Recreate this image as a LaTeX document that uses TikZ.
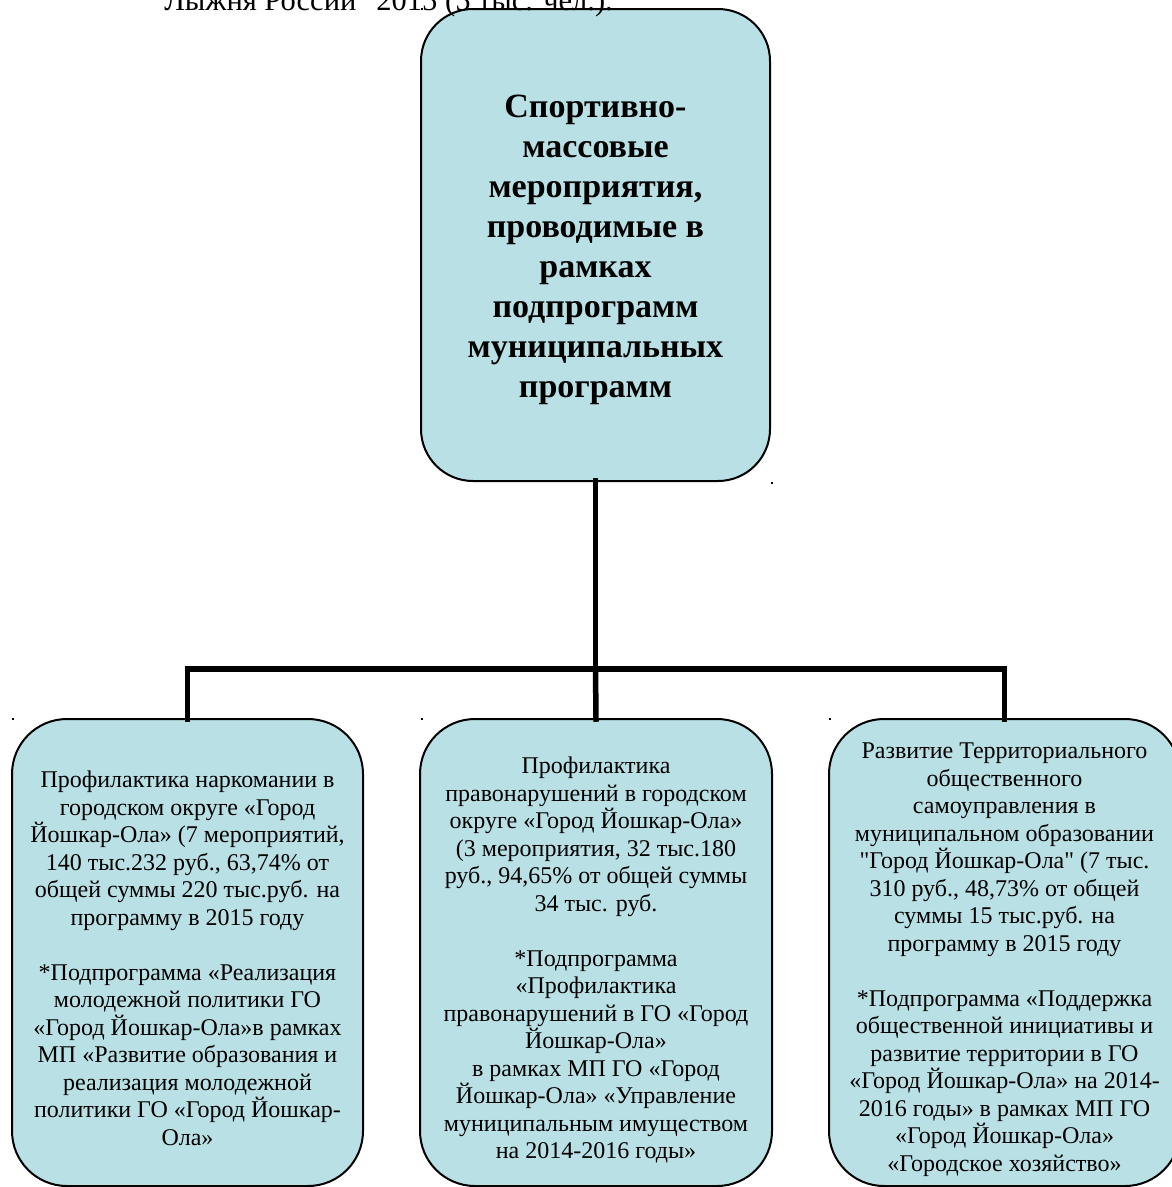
\documentclass[tikz,border=0pt]{standalone}
\usepackage{fontspec}
\setmainfont{Liberation Serif}
\newfontfamily\plainq{Liberation Serif}
\definecolor{boxfill}{RGB}{185,224,228}
\newcommand{\sq}{{\plainq\char34}}
\tikzset{
  box/.style={draw=black, line width=2pt, fill=boxfill, inner sep=0pt, outer sep=0pt},
  conn/.style={line width=5.5pt, line join=miter, line cap=rect},
  body/.style={align=center, font=\fontsize{24}{27.5}\selectfont, inner sep=0pt, anchor=north},
  titletext/.style={align=center, font=\fontsize{34}{40}\selectfont\bfseries, inner sep=0pt, anchor=north},
  toptext/.style={font=\fontsize{30.5}{34}\selectfont, inner sep=0pt, anchor=base east},
  anchordot/.style={fill=black, inner sep=0pt, minimum size=2.5pt, shape=rectangle}
}
\begin{document}
\begin{tikzpicture}[x=1pt,y=-1pt]
\useasboundingbox (0,0) rectangle (1171,1187);

% boxes
\node[box, rounded corners=52pt, minimum width=349pt, minimum height=472pt] (top) at (595.5,245) {};
\node[box, rounded corners=55pt, minimum width=351pt, minimum height=467pt] (lb) at (187.5,952.5) {};
\node[box, rounded corners=55pt, minimum width=352pt, minimum height=467pt] (mb) at (596,952.5) {};
\node[box, rounded corners=55pt, minimum width=351pt, minimum height=467pt] (rb) at (1004.5,952.5) {};

% connectors
\coordinate (j) at (595.5,669);
\draw[conn] (top.south) -- (j);
\draw[conn] (lb.north) |- (j) -| (rb.north);
\draw[conn] (j) -- (mb.north);

% partial line of text cut at the top
\node[toptext] (cut) at (613,10) {\sq Лыжня России\sq{} 2015 (5 тыс. чел.).};

% texts
\node[titletext] (tt) at (595.5,95) {Спортивно-\\массовые\\мероприятия,\\проводимые в\\рамках\\подпрограмм\\муниципальных\\программ};

\node[body] (lt) at (187.5,771) {Профилактика наркомании в\\городском округе «Город\\Йошкар-Ола» (7 мероприятий,\\140 тыс.232 руб., 63,74\% от\\общей суммы 220 тыс.руб. на\\программу в 2015 году\\[27.5pt]*Подпрограмма «Реализация\\молодежной политики ГО\\«Город Йошкар-Ола»в рамках\\МП «Развитие образования и\\реализация молодежной\\политики ГО «Город Йошкар-\\Ола»};

\node[body] (mt) at (596,757) {Профилактика\\правонарушений в городском\\округе «Город Йошкар-Ола»\\(3 мероприятия, 32 тыс.180\\руб., 94,65\% от общей суммы\\34 тыс. руб.\\[27.5pt]*Подпрограмма\\«Профилактика\\правонарушений в ГО «Город\\Йошкар-Ола»\\в рамках МП ГО «Город\\Йошкар-Ола» «Управление\\муниципальным имуществом\\на 2014-2016 годы»};

\node[body] (rt) at (1004.5,743) {Развитие Территориального\\общественного\\самоуправления в\\муниципальном образовании\\\sq Город Йошкар-Ола\sq{} (7 тыс.\\310 руб., 48,73\% от общей\\суммы 15 тыс.руб. на\\программу в 2015 году\\[27.5pt]*Подпрограмма «Поддержка\\общественной инициативы и\\развитие территории в ГО\\«Город Йошкар-Ола» на 2014-\\2016 годы» в рамках МП ГО\\«Город Йошкар-Ола»\\«Городское хозяйство»};

% stray anchor marks
\node[anchordot] (d1) at (422,9) {};
\node[anchordot] (d2) at (772,483) {};
\node[anchordot] (d3) at (13,719) {};
\node[anchordot] (d4) at (422,719) {};
\node[anchordot] (d5) at (830,719) {};
\end{tikzpicture}
\end{document}
